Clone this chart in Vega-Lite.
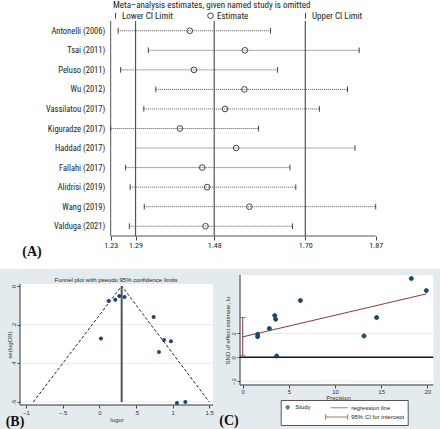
{
  "$schema": "https://vega.github.io/schema/vega-lite/v6.json",
  "background": "white",
  "padding": {"top": 1, "left": 0, "right": 0, "bottom": 0},
  "bounds": "flush",
  "spacing": 33,
  "resolve": {"scale": {"shape": "independent", "color": "independent"}, "legend": {"shape": "independent", "color": "independent"}},
  "config": {
    "view": {"stroke": null},
    "axis": {"domain": false, "grid": false, "labelColor": "#333", "titleColor": "#333", "tickColor": "#444", "titleFontWeight": "normal", "labelFont": "Liberation Sans", "titleFont": "Liberation Sans"},
    "title": {"fontWeight": "normal", "color": "#222"}
  },
  "datasets": {
    "loo": [
      {"study": "Antonelli (2006)", "Lower CI Limit": 1.248, "Estimate": 1.421, "Upper CI Limit": 1.616},
      {"study": "Tsai (2011)", "Lower CI Limit": 1.321, "Estimate": 1.554, "Upper CI Limit": 1.830},
      {"study": "Peluso (2011)", "Lower CI Limit": 1.254, "Estimate": 1.431, "Upper CI Limit": 1.633},
      {"study": "Wu (2012)", "Lower CI Limit": 1.339, "Estimate": 1.553, "Upper CI Limit": 1.802},
      {"study": "Vassilatou (2017)", "Lower CI Limit": 1.310, "Estimate": 1.506, "Upper CI Limit": 1.734},
      {"study": "Kiguradze (2017)", "Lower CI Limit": 1.230, "Estimate": 1.397, "Upper CI Limit": 1.587},
      {"study": "Haddad (2017)", "Lower CI Limit": 1.290, "Estimate": 1.533, "Upper CI Limit": 1.820},
      {"study": "Fallahi (2017)", "Lower CI Limit": 1.266, "Estimate": 1.451, "Upper CI Limit": 1.663},
      {"study": "Alidrisi (2019)", "Lower CI Limit": 1.277, "Estimate": 1.463, "Upper CI Limit": 1.677},
      {"study": "Wang (2019)", "Lower CI Limit": 1.311, "Estimate": 1.565, "Upper CI Limit": 1.870},
      {"study": "Valduga (2021)", "Lower CI Limit": 1.275, "Estimate": 1.459, "Upper CI Limit": 1.669}
    ],
    "pooled": [{"value": 1.29}, {"value": 1.48}, {"value": 1.70}],
    "funnel": [
      {"logor": 0.127, "se": 0.078}, {"logor": 0.218, "se": 0.071}, {"logor": 0.273, "se": 0.052},
      {"logor": 0.345, "se": 0.057}, {"logor": 0.741, "se": 0.160}, {"logor": 0.023, "se": 0.272},
      {"logor": 0.882, "se": 0.279}, {"logor": 0.977, "se": 0.286}, {"logor": 0.814, "se": 0.341},
      {"logor": 1.059, "se": 0.605}, {"logor": 1.173, "se": 0.600}
    ],
    "pseudoLimits": [{"logor": -0.90, "se": 0.60}, {"logor": 0.305, "se": 0.0}, {"logor": 1.50, "se": 0.60}],
    "egger": [
      {"precision": 1.62, "snd": 1.93}, {"precision": 1.62, "snd": 1.73}, {"precision": 2.89, "snd": 2.41},
      {"precision": 3.47, "snd": 3.50}, {"precision": 3.57, "snd": 3.19}, {"precision": 3.68, "snd": 0.11},
      {"precision": 6.25, "snd": 4.76}, {"precision": 13.14, "snd": 1.79}, {"precision": 14.51, "snd": 3.33},
      {"precision": 18.27, "snd": 6.60}, {"precision": 19.89, "snd": 5.59}
    ],
    "eggerCI": [{"precision": 0, "lo": 0.17, "hi": 3.33}]
  },
  "vconcat": [
    {
      "width": 440,
      "height": 215,
      "data": {"values": [{}]},
      "title": {"text": "Meta–analysis estimates, given named study is omitted", "anchor": "start", "frame": "group", "dx": 113, "offset": 1, "fontSize": 9, "font": "Liberation Sans Narrow, Roboto Condensed, Liberation Sans", "color": "#222"},
      "layer": [
        {
          "data": {"name": "loo"},
          "mark": {"type": "rule", "strokeDash": [1, 1], "color": "#555", "strokeWidth": 1},
          "encoding": {
            "y": {"field": "study", "type": "nominal", "sort": null, "scale": {"paddingInner": 0, "paddingOuter": 0},
                  "axis": {"orient": "left", "offset": -110.7, "ticks": false, "tickSize": 0, "labelPadding": 6, "labelFontSize": 8.5, "labelFont": "Liberation Sans Narrow, Roboto Condensed, Liberation Sans", "labelColor": "#222", "title": null}},
            "x": {"field": "Lower CI Limit", "type": "quantitative", "scale": {"domain": [0.96265, 2.02529], "nice": false, "zero": false},
                  "axis": {"values": [1.23, 1.29, 1.48, 1.70, 1.87], "format": ".2f", "tickSize": 4, "tickColor": "#444", "labelPadding": 1, "labelFontSize": 8, "labelFont": "Liberation Sans Narrow, Roboto Condensed, Liberation Sans", "labelColor": "#222", "labelFlush": false, "labelOverlap": false,
                           "title": "(A)", "titleX": 31.5, "titleY": 15, "titleAlign": "center", "titleBaseline": "middle", "titleFont": "Liberation Serif", "titleFontSize": 14, "titleFontWeight": "bold", "titleColor": "#111"}},
            "x2": {"field": "Upper CI Limit"}
          }
        },
        {
          "data": {"name": "loo"},
          "transform": [{"fold": ["Lower CI Limit", "Estimate", "Upper CI Limit"], "as": ["measure", "value"]}],
          "mark": {"type": "point", "filled": false, "color": "#444", "strokeWidth": 1, "opacity": 1, "size": 32},
          "encoding": {
            "y": {"field": "study", "type": "nominal", "sort": null},
            "x": {"field": "value", "type": "quantitative", "title": "(A)"},
            "shape": {"field": "measure", "type": "nominal",
                      "scale": {"domain": ["Lower CI Limit", "Estimate", "Upper CI Limit"], "range": ["M0,-1V1", "circle", "M0,-1V1"]},
                      "legend": {"orient": "none", "legendX": 111, "legendY": -10, "direction": "horizontal", "title": null, "labelFontSize": 9, "labelFont": "Liberation Sans Narrow, Roboto Condensed, Liberation Sans", "labelColor": "#222", "symbolSize": 32, "symbolStrokeColor": "#444", "symbolStrokeWidth": 1, "symbolFillColor": "transparent", "columnPadding": 32, "labelOffset": 2, "gridAlign": "all", "padding": 0}}
          }
        },
        {
          "data": {"name": "pooled"},
          "mark": {"type": "rule", "color": "#555", "strokeWidth": 1.2},
          "encoding": {"x": {"field": "value", "type": "quantitative", "title": "(A)"}}
        },
        {
          "mark": {"type": "rule", "color": "#555", "strokeWidth": 1},
          "encoding": {"x": {"datum": 1.23}}
        },
        {
          "mark": {"type": "rule", "color": "#555", "strokeWidth": 1},
          "encoding": {"x": {"datum": 1.23}, "x2": {"datum": 1.87}, "y": {"datum": "Valduga (2021)", "type": "nominal", "bandPosition": 1}}
        }
      ]
    },
    {
      "resolve": {"scale": {"shape": "independent", "color": "independent"}, "legend": {"shape": "independent", "color": "independent"}},
      "hconcat": [
        {
          "width": 218,
          "height": 160,
          "view": {"fill": "#E3EBEF"},
          "data": {"values": [{}]},
          "title": {"text": "Funnel plot with pseudo 95% confidence limits", "frame": "group", "anchor": "middle", "dx": 7, "offset": -14, "fontSize": 6, "font": "Liberation Sans", "color": "#222"},
          "layer": [
            {
              "mark": {"type": "rect", "color": "white"},
              "encoding": {
                "x": {"datum": -1.0816, "type": "quantitative", "scale": {"domain": [-1.3543, 1.6189], "nice": false, "zero": false},
                      "axis": {"orient": "bottom", "offset": -24, "values": [-1, -0.5, 0, 0.5, 1, 1.5], "labelExpr": "replace(format(datum.value, '~g'), '0.', '.')", "tickSize": 3, "labelPadding": 1, "labelFontSize": 6, "labelFlush": false, "labelOverlap": false, "title": "logor", "titleFontSize": 6, "titleX": 116.5, "titleY": 14, "titleAlign": "center", "titleBaseline": "middle"}},
                "x2": {"datum": 1.5508},
                "y": {"datum": -0.0103, "type": "quantitative", "scale": {"domain": [-0.0879, 0.7398], "reverse": true, "nice": false, "zero": false},
                      "axis": {"orient": "left", "offset": -20, "values": [0, 0.2, 0.4, 0.6], "labelExpr": "replace(format(datum.value, '~g'), '0.', '.')", "labelAngle": 270, "labelAlign": "center", "labelBaseline": "bottom", "tickSize": 3, "labelPadding": 1, "labelFontSize": 6, "labelFlush": false, "labelOverlap": false, "title": "se(logOR)", "titleFontSize": 6, "titleX": -11, "titleY": 75.5, "titleAngle": 270, "titleAlign": "center", "titleBaseline": "middle"}},
                "y2": {"datum": 0.6156}
              }
            },
            {"mark": {"type": "rule", "color": "#E3EBEF", "strokeWidth": 1}, "encoding": {"y": {"datum": 0.2}, "x": {"datum": -1.0816}, "x2": {"datum": 1.5508}}},
            {"mark": {"type": "rule", "color": "#E3EBEF", "strokeWidth": 1}, "encoding": {"y": {"datum": 0.4}, "x": {"datum": -1.0816}, "x2": {"datum": 1.5508}}},
            {"mark": {"type": "rule", "color": "#E3EBEF", "strokeWidth": 1}, "encoding": {"y": {"datum": 0.6}, "x": {"datum": -1.0816}, "x2": {"datum": 1.5508}}},
            {"mark": {"type": "rule", "color": "#333", "strokeWidth": 1}, "encoding": {"x": {"datum": -1.0816}, "y": {"datum": -0.0103}, "y2": {"datum": 0.6156}}},
            {"mark": {"type": "rule", "color": "#333", "strokeWidth": 1}, "encoding": {"y": {"datum": 0.6156}, "x": {"datum": -1.0816}, "x2": {"datum": 1.5508}}},
            {
              "data": {"name": "pseudoLimits"},
              "mark": {"type": "line", "color": "#222", "strokeWidth": 1, "strokeDash": [3, 2]},
              "encoding": {"x": {"field": "logor", "type": "quantitative"}, "y": {"field": "se", "type": "quantitative"}}
            },
            {"mark": {"type": "rule", "color": "#555", "strokeWidth": 2}, "encoding": {"x": {"datum": 0.305}, "y": {"datum": 0}, "y2": {"datum": 0.60}}},
            {
              "data": {"name": "funnel"},
              "mark": {"type": "point", "filled": true, "color": "#1a476f", "size": 16, "opacity": 1},
              "encoding": {"x": {"field": "logor", "type": "quantitative"}, "y": {"field": "se", "type": "quantitative"}}
            },
            {
              "mark": {"type": "text", "font": "Liberation Serif", "fontSize": 14, "fontWeight": "bold", "color": "#111", "align": "center", "baseline": "middle"},
              "encoding": {"x": {"datum": -1.15}, "y": {"datum": 0.706}, "text": {"value": "(B)"}}
            }
          ]
        },
        {
          "width": 222,
          "height": 160,
          "view": {"fill": "#E3EBEF"},
          "data": {"values": [{}]},
          "layer": [
            {
              "mark": {"type": "rect", "color": "white"},
              "encoding": {
                "x": {"datum": -0.29, "type": "quantitative", "scale": {"domain": [-2.676, 21.376], "nice": false, "zero": false},
                      "axis": {"orient": "bottom", "offset": -44, "values": [0, 5, 10, 15, 20], "tickSize": 3, "labelPadding": 0, "labelFontSize": 6, "labelFlush": false, "labelOverlap": false, "title": "Precision", "titleFontSize": 6, "titleX": 120, "titleY": 12, "titleAlign": "center", "titleBaseline": "middle"}},
                "x2": {"datum": 20.65},
                "y": {"datum": -2.32, "type": "quantitative", "scale": {"domain": [-6.010, 7.401], "nice": false, "zero": false},
                      "axis": {"orient": "left", "offset": -22, "values": [-2, 0, 2], "format": "~g", "labelAngle": 270, "labelAlign": "center", "labelBaseline": "bottom", "tickSize": 3, "labelPadding": 1, "labelFontSize": 6, "labelFlush": false, "labelOverlap": false, "title": "SND of effect estimate", "titleFontSize": 6, "titleX": -13, "titleY": 61, "titleAngle": 270, "titleAlign": "center", "titleBaseline": "middle"}},
                "y2": {"datum": 6.90}
              }
            },
            {"mark": {"type": "rule", "color": "#E3EBEF", "strokeWidth": 1}, "encoding": {"y": {"datum": 2}, "x": {"datum": -0.29}, "x2": {"datum": 20.65}}},
            {"mark": {"type": "rule", "color": "#E3EBEF", "strokeWidth": 1}, "encoding": {"y": {"datum": -2}, "x": {"datum": -0.29}, "x2": {"datum": 20.65}}},
            {"mark": {"type": "rule", "color": "#333", "strokeWidth": 1}, "encoding": {"x": {"datum": -0.29}, "y": {"datum": -2.32}, "y2": {"datum": 6.90}}},
            {"mark": {"type": "rule", "color": "#333", "strokeWidth": 1}, "encoding": {"y": {"datum": -2.32}, "x": {"datum": -0.29}, "x2": {"datum": 20.65}}},
            {"mark": {"type": "rule", "color": "#111", "strokeWidth": 1.5}, "encoding": {"y": {"datum": 0}, "x": {"datum": -0.29}, "x2": {"datum": 20.65}}},
            {
              "data": {"name": "eggerCI"},
              "mark": {"type": "errorbar", "ticks": {"size": 6}, "thickness": 1},
              "encoding": {"x": {"field": "precision", "type": "quantitative"}, "y": {"field": "lo", "type": "quantitative"}, "y2": {"field": "hi"}, "color": {"datum": "95% CI for intercept", "type": "nominal"}}
            },
            {
              "data": {"name": "egger"},
              "transform": [{"regression": "snd", "on": "precision", "extent": [0, 19.89]}],
              "mark": {"type": "line", "strokeWidth": 1},
              "encoding": {"x": {"field": "precision", "type": "quantitative"}, "y": {"field": "snd", "type": "quantitative"}, "color": {"datum": "regression line", "type": "nominal"}}
            },
            {
              "data": {"name": "egger"},
              "mark": {"type": "point", "filled": false, "fill": "#1a476f", "fillOpacity": 1, "strokeWidth": 1, "size": 80, "opacity": 1},
              "encoding": {
                "x": {"field": "precision", "type": "quantitative"},
                "y": {"field": "snd", "type": "quantitative"},
                "color": {"datum": "Study", "type": "nominal",
                          "scale": {"domain": ["Study", "regression line", " ", "95% CI for intercept"], "range": ["#1a476f", "#90353b", "transparent", "#90353b"]},
                          "legend": {"orient": "none", "legendX": 62.7, "legendY": 131, "columns": 2, "direction": "horizontal", "title": null, "strokeColor": "#555", "fillColor": "white", "padding": 2.5, "labelFontSize": 6, "labelFont": "Liberation Sans", "labelColor": "#222", "symbolSize": 64, "symbolStrokeWidth": 1, "labelOffset": 3, "rowPadding": 0, "columnPadding": 12, "gridAlign": "each"}},
                "shape": {"datum": "Study", "type": "nominal",
                          "scale": {"domain": ["Study", "regression line", " ", "95% CI for intercept"], "range": ["M-0.45,0A0.45,0.45,0,1,0,0.45,0A0.45,0.45,0,1,0,-0.45,0Z", "M-3.25,0H1", "M0,0", "M-4.5,-0.7V0.7M-4.5,0H1M1,-0.7V0.7"]},
                          "legend": {"orient": "none", "legendX": 62.7, "legendY": 131, "columns": 2, "direction": "horizontal", "title": null, "strokeColor": "#555", "fillColor": "white", "padding": 2.5, "labelFontSize": 6, "labelFont": "Liberation Sans", "labelColor": "#222", "symbolSize": 64, "symbolStrokeWidth": 1, "labelOffset": 3, "rowPadding": 0, "columnPadding": 12, "gridAlign": "each"}}
              }
            },
            {
              "mark": {"type": "text", "font": "Liberation Serif", "fontSize": 14, "fontWeight": "bold", "color": "#111", "align": "center", "baseline": "middle"},
              "encoding": {"x": {"datum": -1.48}, "y": {"datum": -5.34}, "text": {"value": "(C)"}}
            }
          ]
        }
      ],
      "spacing": 0,
      "bounds": "flush"
    }
  ]
}
